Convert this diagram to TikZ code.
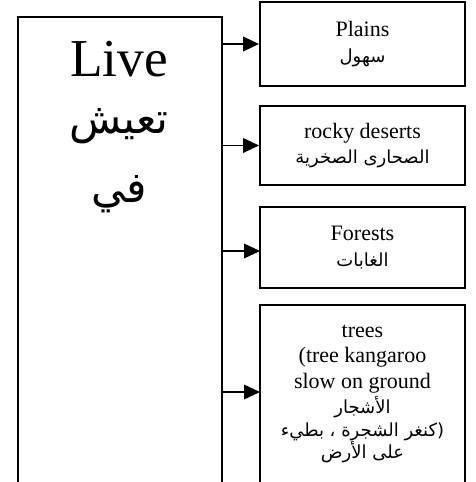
\documentclass[tikz,border=0pt]{standalone}
\usepackage{fontspec}
\setmainfont{Liberation Serif}
\newfontfamily\arabicfont[Script=Arabic]{DejaVu Sans}
\TeXXeTstate=1
\usetikzlibrary{arrows.meta}
\newcommand{\arsmall}{\arabicfont\fontsize{13.5}{19}\selectfont}
\begin{document}
\begin{tikzpicture}[x=0.75pt,y=-0.75pt,
  frame/.style={draw,line width=1.2pt,rectangle,inner sep=0pt},
  place/.style={frame,line width=1.4pt,minimum width=153.75pt,align=center,
    font=\fontsize{16.5}{19}\selectfont},
  bigen/.style={font=\fontsize{40}{40}\selectfont,inner sep=0pt},
  bigar/.style={font=\arabicfont\fontsize{32}{32}\selectfont,inner sep=0pt},
  arr/.style={line width=1.2pt,-{Triangle[length=12pt,width=11pt]}}]
\useasboundingbox (0,0) rectangle (475,482);
\clip (0,0) rectangle (475,482);

% left column: the verb box
\node[frame,anchor=north west,minimum width=153pt,minimum height=375pt] (live) at (17,16) {};
\node[bigen] (liveen) at (119,59) {Live};
\node[bigar] (livear) at (119,126) {\beginR تعيش\endR};
\node[bigar] (livein) at (119,194) {\beginR في\endR};

% right column: habitats
\node[place,minimum height=63pt] (plains) at (362.5,44)
  {Plains\\{\arsmall\beginR سهول\endR}};
\node[place,minimum height=59.25pt] (rocky) at (362.5,145.5)
  {rocky deserts\\{\arsmall\beginR الصحارى الصخرية\endR}};
\node[place,minimum height=60.75pt] (forests) at (362.5,247.5)
  {Forests\\{\arsmall\beginR الغابات\endR}};
\node[place,minimum height=133.5pt] (trees) at (362.5,394)
  {trees\\(tree kangaroo\\slow on ground\\{\arsmall\beginR الأشجار\endR}\\[-2pt]
   {\arsmall\beginR (كنغر الشجرة ، بطيء\endR}\\[-2pt]
   {\arsmall\beginR على الأرض\endR}};

% connectors from the trunk
\coordinate (forestsin) at (260,251);
\coordinate (treesin) at (260,392);
\draw[arr] (live.east |- plains.west) -- (plains.west);
\draw[arr] (live.east |- rocky.west) -- (rocky.west);
\draw[arr] (live.east |- forestsin) -- (forestsin);
\draw[arr] (live.east |- treesin) -- (treesin);
\end{tikzpicture}
\end{document}
